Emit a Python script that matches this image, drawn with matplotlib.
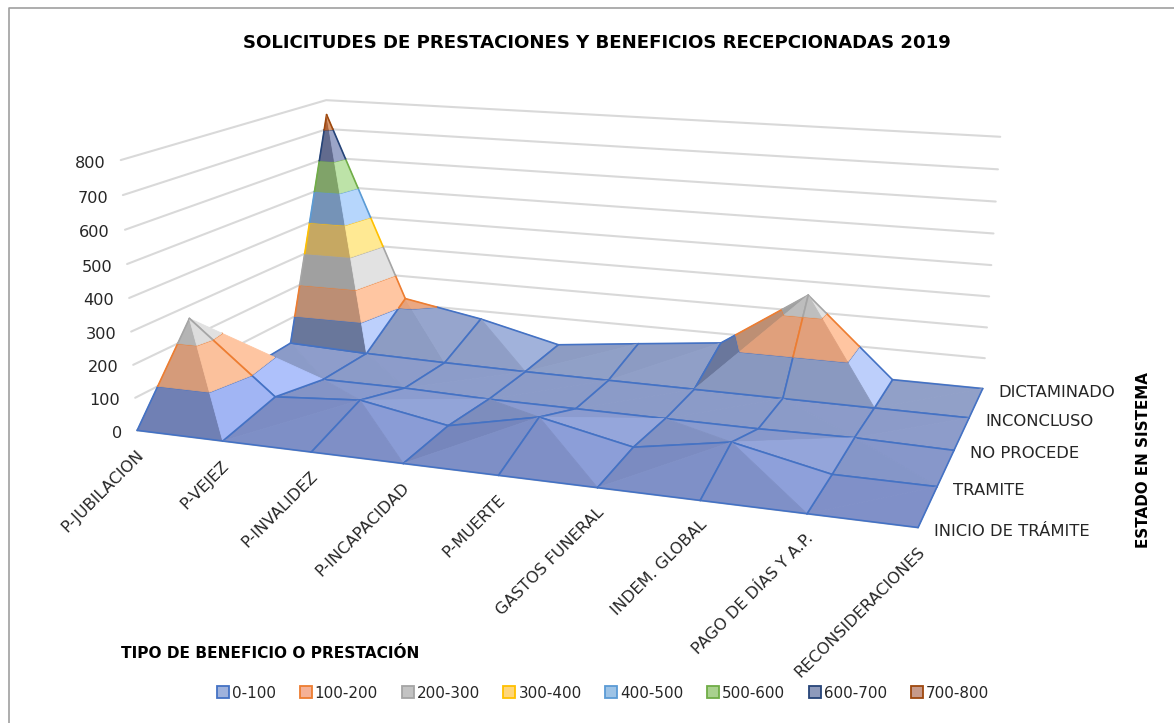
import numpy as np
import matplotlib
matplotlib.use("Agg")
import matplotlib.pyplot as plt
from matplotlib.patches import Patch, Polygon
from matplotlib.colors import to_rgb

# ---------- data ----------
categories = ["P-JUBILACION", "P-VEJEZ", "P-INVALIDEZ", "P-INCAPACIDAD", "P-MUERTE",
              "GASTOS FUNERAL", "INDEM. GLOBAL", "PAGO DE DÍAS Y A.P.", "RECONSIDERACIONES"]
estados = ["INICIO DE TRÁMITE", "TRAMITE", "NO PROCEDE", "INCONCLUSO", "DICTAMINADO"]
inicio_tramite = [0, 0, 0, 0, 0, 0, 0, 0, 0]
tramite = [260, 40, 60, 12, 70, 12, 60, 0, 0]
no_procede = [5, 5, 6, 0, 0, 0, 0, 5, 0]
inconcluso = [15, 6, 2, 0, 0, 0, 0, 0, 0]
dictaminado = [750, 120, 72, 7, 38, 68, 255, 0, 0]
z_ticks = [0, 100, 200, 300, 400, 500, 600, 700, 800]
band_labels = ["0-100", "100-200", "200-300", "300-400", "400-500", "500-600", "600-700", "700-800"]

# ---------- style ----------
FONT = "DejaVu Sans"
line_cols = ["#4472C4", "#ED7D31", "#A5A5A5", "#FFC000", "#5B9BD5", "#70AD47", "#264478", "#9E480E"]
dark_cols = ["#5F6C92", "#B38A72", "#989898", "#BDA05F", "#6E8BAD", "#7A9A63", "#5C6587", "#A85C33"]
mid_cols = ["#8E9DC8", "#E9A47E", "#C4C4C4", "#F2CC6E", "#95BBE8", "#A0CC85", "#7E89AE", "#C47A4E"]
light_cols = ["#BACCFC", "#FFC6A2", "#E2E2E2", "#FFE993", "#B6D6FC", "#BDE3A8", "#9BA5C8", "#D99A70"]
swatch_cols = ["#9FB2DC", "#F5B196", "#C3C3C3", "#FFD67A", "#9DC3E6", "#A9D18E", "#8E9ABB", "#C79A8A"]

Z = np.array([inicio_tramite, tramite, no_procede, inconcluso, dictaminado], dtype=float)
NY, NX = Z.shape

fig = plt.figure(figsize=(11.74, 7.23), dpi=100, facecolor="white")
ax = fig.add_axes([0, 0, 1, 1])
ax.set_xlim(0, 1174)
ax.set_ylim(723, 0)
ax.axis("off")

# ---------- camera: 3D box corners to picture position ----------
calib = [((0, 0, 0), (138, 430)), ((8, 0, 0), (918, 528)), ((8, 4, 0), (983, 388)),
         ((0, 4, 0), (332, 325)), ((0, 0, 8), (120, 160)), ((0, 4, 8), (327, 100)),
         ((8, 4, 8), (1000, 137))]
rows = []
for (X, Y, W), (u, v) in calib:
    rows.append([X, Y, W, 1, 0, 0, 0, 0, -u * X, -u * Y, -u * W, -u])
    rows.append([0, 0, 0, 0, X, Y, W, 1, -v * X, -v * Y, -v * W, -v])
P = np.linalg.svd(np.array(rows, float))[2][-1].reshape(3, 4)
cam = np.linalg.svd(P)[2][-1]
cam = cam[:3] / cam[3]


def project(x, y, z):
    h = P @ np.array([x, y, z / 100.0, 1.0])
    return h[0] / h[2], h[1] / h[2]


def clip(poly, lo, hi):
    def cut(pts, keep, val):
        out = []
        for a, b in zip(pts, pts[1:] + pts[:1]):
            ka, kb = keep(a[2]), keep(b[2])
            if ka:
                out.append(a)
            if ka != kb:
                t = (val - a[2]) / (b[2] - a[2])
                out.append(tuple(a[i] + t * (b[i] - a[i]) for i in range(3)))
        return out
    pts = cut(list(poly), lambda v: v >= lo, lo)
    return cut(pts, lambda v: v <= hi, hi) if pts else []


def blend(a, b, t):
    a, b = np.array(to_rgb(a)), np.array(to_rgb(b))
    return a + (b - a) * t


def shade(tri):
    p = [np.array([q[0], q[1], q[2] / 100.0 * 0.35]) for q in tri]
    n = np.cross(p[1] - p[0], p[2] - p[0])
    n = n / np.linalg.norm(n)
    if n[2] < 0:
        n = -n
    nx = n[0] * (1.6 if n[0] < 0 else 1.0)
    s = nx + 0.35 * n[1] + 0.5 * (n[2] - 1)
    if s < 0:
        s *= 1 - 0.6 * np.mean([q[0] for q in tri]) / 8.0
    return s


def face_colour(band, s, row):
    if s < 0:
        col = blend(mid_cols[band], dark_cols[band], min((-s / 0.7) ** 1.5, 1))
    else:
        col = blend(mid_cols[band], light_cols[band], min(s / 0.55, 1))
    if band == 0:
        f = row / 3.0
        col = col * np.array([0.90 + 0.12 * f, 0.92 + 0.10 * f, 1.0])
    return np.clip(col, 0, 1)


# ---------- walls ----------
grid_kw = dict(color="#D9D9D9", lw=1.5, solid_capstyle="round", zorder=1)
for t in z_ticks:
    pts = [project(0, 0, t), project(0, 4, t), project(8, 4, t)]
    ax.plot(*zip(*pts), **grid_kw)
ax.plot(*zip(project(0, 0, 0), project(8, 0, 0)), **grid_kw)

# ---------- surface ----------
tris = []
for j in range(NY - 1):
    for i in range(NX - 1):
        c = [(i, j), (i + 1, j), (i + 1, j + 1), (i, j + 1)]
        vals = [Z[q[1], q[0]] for q in c]
        k = int(np.argmax(vals))
        a, b, d, e = c[k], c[(k + 1) % 4], c[(k + 2) % 4], c[(k + 3) % 4]
        # a-d is the diagonal: no line is drawn on it
        tris.append(((a, b, d), [(a, b), (b, d)], j))
        tris.append(((a, d, e), [(d, e), (e, a)], j))


def v3(q):
    return (float(q[0]), float(q[1]), Z[q[1], q[0]])


items = []
for tri, edges, row in tris:
    t3 = [v3(q) for q in tri]
    p2 = np.array([project(*q) for q in t3])
    area = np.cross(p2[1] - p2[0], p2[2] - p2[0])
    if area > 0:  # in a y-down picture, front faces come out negative here
        continue
    cen = np.mean([[q[0], q[1], q[2] / 100.0] for q in t3], axis=0)
    items.append((np.linalg.norm(cen - cam), t3, [(v3(a), v3(b)) for a, b in edges], row))
items.sort(key=lambda it: -it[0])

# faces first in depth order; a face covers what lies behind it, lines included
zo = 2.0
for _, t3, edges, row in items:
    s = shade(t3)
    for band in range(8):
        lo, hi = band * 100.0, (band + 1) * 100.0
        poly = clip(t3, lo, hi)
        if len(poly) < 3:
            continue
        zo += 0.01
        col = face_colour(band, s, row)
        ax.add_patch(Polygon([project(*q) for q in poly], closed=True, facecolor=col,
                             edgecolor=col, lw=0.6, zorder=zo))
        line_kw = dict(color=line_cols[band], lw=1.2, solid_capstyle="round")
        for a, b in edges:
            seg = clip([a, b], lo, hi) if a[2] != b[2] else ([a, b] if lo <= a[2] <= hi else [])
            if len(seg) >= 2:
                ax.plot(*zip(project(*seg[0]), project(*seg[1])), zorder=zo + 0.005, **line_kw)
        top = [q for q in poly if abs(q[2] - hi) < 1e-6]
        if len(top) == 2:
            ax.plot(*zip(project(*top[0]), project(*top[1])), zorder=zo + 0.005, **line_kw)

# ---------- chart frame ----------
ax.plot([9, 9, 1174], [723, 8, 8], color="#A0A0A0", lw=1.2, zorder=0)

# ---------- text ----------
tick_fs = 11.6
for t in z_ticks:
    u, v = project(0, 0, t)
    ax.text(u - 15, v + 3, str(t), ha="right", va="center", family=FONT, fontsize=tick_fs, color="#262626")
for i, name in enumerate(categories):
    u, v = project(i, 0, 0)
    ax.text(u + 4, v + 22, name, rotation=45, rotation_mode="anchor", ha="right", va="center",
            family=FONT, fontsize=tick_fs, color="#262626")
for j, name in enumerate(estados):
    u, v = project(8, j, 0)
    ax.text(u + 16, v + 3.5, name, ha="left", va="center", family=FONT, fontsize=11.8, color="#262626")

ax.text(597, 43, "SOLICITUDES DE PRESTACIONES Y BENEFICIOS RECEPCIONADAS 2019", ha="center", va="center",
        family=FONT, fontsize=13.1, fontweight="bold", color="black")
ax.text(121, 654, "TIPO DE BENEFICIO O PRESTACIÓN", ha="left", va="center",
        family=FONT, fontsize=11.1, fontweight="bold", color="black")
ax.text(1143, 460, "ESTADO EN SISTEMA", ha="center", va="center", rotation=90,
        family=FONT, fontsize=10.9, fontweight="bold", color="black")

handles = [Patch(facecolor=f, edgecolor=e, lw=1.3) for f, e in zip(swatch_cols, line_cols)]
ax.legend(handles, band_labels, ncol=8, loc="center", bbox_to_anchor=(603, 693), bbox_transform=ax.transData,
          frameon=False, handlelength=0.8, handleheight=0.8, handletextpad=0.2, columnspacing=1.55,
          prop={"family": FONT, "size": 10.9}, labelcolor="#262626", borderpad=0, borderaxespad=0)

fig.savefig("out.png", dpi=100, facecolor="white")
